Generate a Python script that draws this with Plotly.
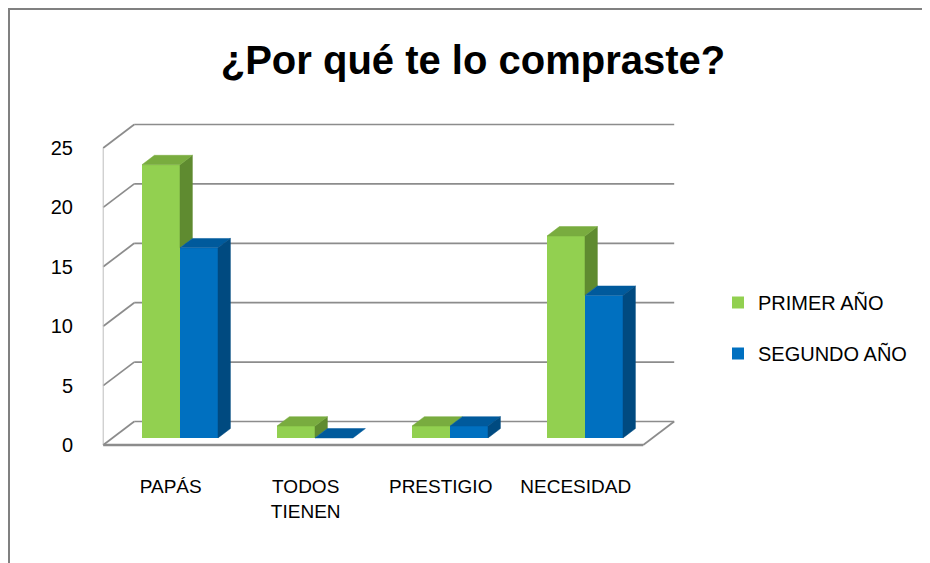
import plotly.graph_objects as go

# ---------------- data ----------------
categories = ["PAPÁS", "TODOS<br>TIENEN", "PRESTIGIO", "NECESIDAD"]
primer_anio = [23, 1, 1, 17]
segundo_anio = [16, 0, 1, 12]
series_names = ["PRIMER AÑO", "SEGUNDO AÑO"]
y_ticks = [0, 5, 10, 15, 20, 25]
title_text = "¿Por qué te lo compraste?"

# ---------------- styling / 3D projection params ----------------
FONT = "Liberation Sans, Arial, sans-serif"
GREEN = ["#92D050", "#79AC3F", "#5F8B30"]   # front, top, side
BLUE = ["#0070C0", "#005A9C", "#004A80"]
GRID = "#8C8C8C"
DX, DY = 0.2296, 1.978        # full depth offset in data units (oblique projection)
D0, D1 = 0.3, 0.7             # bar depth (front/back)
W = 0.2815                    # bar width in category units
pos = list(range(len(categories)))

PAGE = 8                      # page body margin offset
L, R, T, B = 95 - PAGE, 685 - PAGE, 110 - PAGE, 455 - PAGE


def px_x(p):  # page pixel -> paper x
    return (p - PAGE - L) / (R - L)


def px_y(p):  # page pixel -> paper y
    return (B - (p - PAGE)) / (B - T)


def proj(x, v, d):
    return x + d * DX, v + d * DY


fig = go.Figure()

# front faces (bars through library scales)
for vals, name, cols, off in [(primer_anio, series_names[0], GREEN, -W),
                              (segundo_anio, series_names[1], BLUE, 0.0)]:
    fig.add_trace(go.Bar(
        x=[proj(i, 0, D0)[0] for i in pos], y=vals, base=D0 * DY,
        offset=off, width=W, name=name, legendgroup=name,
        marker=dict(color=cols[0], line=dict(width=0)),
        hovertemplate="%{y}<extra>" + name + "</extra>",
    ))


def poly_trace(polys, color):
    xs, ys = [], []
    for p in polys:
        for (x, y) in p + [p[0]]:
            xs.append(x)
            ys.append(y)
        xs.append(None)
        ys.append(None)
    return go.Scatter(x=xs, y=ys, mode="lines", fill="toself", fillcolor=color,
                      line=dict(color=color, width=0.5), showlegend=False,
                      hoverinfo="skip")


def top_faces(vals, off):
    out = []
    for i, v in zip(pos, vals):
        x0, x1 = i + off, i + off + W
        out.append([proj(x0, v, D0), proj(x1, v, D0), proj(x1, v, D1), proj(x0, v, D1)])
    return out


def side_faces(vals, off, lows=None):
    out = []
    for k, (i, v) in enumerate(zip(pos, vals)):
        lo = 0 if lows is None else lows[k]
        if v <= lo:
            continue
        x1 = i + off + W
        out.append([proj(x1, lo, D0), proj(x1, v, D0), proj(x1, v, D1), proj(x1, lo, D1)])
    return out


fig.add_trace(poly_trace(side_faces(primer_anio, -W, segundo_anio), GREEN[2]))
fig.add_trace(poly_trace(top_faces(primer_anio, -W), GREEN[1]))
fig.add_trace(poly_trace(top_faces(segundo_anio, 0.0), BLUE[1]))
fig.add_trace(poly_trace(side_faces(segundo_anio, 0.0), BLUE[2]))

# walls / floor as shapes below the traces
shapes = []
xl, xr = pos[0] - 0.5, pos[-1] + 0.5


def seg(p, q, width=1.7, color=GRID):
    shapes.append(dict(type="line", xref="x", yref="y", x0=p[0], y0=p[1], x1=q[0], y1=q[1],
                       line=dict(color=color, width=width), layer="below"))


for v in y_ticks:
    seg(proj(xl, v, 1), proj(xr, v, 1))
    seg(proj(xl, v, 0), proj(xl, v, 1))
seg(proj(xl, 0, 0), proj(xl, y_ticks[-1], 0), width=1, color="#BDBDBD")
seg(proj(xl, 0, 0), proj(xr, 0, 0), width=2.5)
seg(proj(xr, 0, 0), proj(xr, 0, 1), width=1.7)

# outer frame (left and top border)
shapes.append(dict(type="line", xref="paper", yref="paper", x0=px_x(9), x1=px_x(9),
                   y0=px_y(8), y1=px_y(571), line=dict(color="#808080", width=2)))
shapes.append(dict(type="line", xref="paper", yref="paper", x0=px_x(8), x1=px_x(938),
                   y0=px_y(9), y1=px_y(9), line=dict(color="#808080", width=2)))

fig.update_layout(
    width=930, height=563,
    margin=dict(l=L, r=930 - R, t=T, b=563 - B, autoexpand=False),
    paper_bgcolor="white", plot_bgcolor="white",
    barmode="overlay", showlegend=True,
    shapes=shapes,
    title=dict(text="<b>" + title_text + "</b>", x=(473 - PAGE) / 930, xanchor="center",
               y=1 - (60 - PAGE) / 563, yanchor="middle", yref="container",
               font=dict(family=FONT, size=40, color="#000000")),
    xaxis=dict(range=[(95 - 170.7) / 135, (685 - 170.7) / 135], tickvals=pos, ticktext=categories,
               showgrid=False, zeroline=False, showline=False, ticks="",
               tickfont=dict(family=FONT, size=19, color="#000000"), ticklabelstandoff=18,
               fixedrange=True),
    yaxis=dict(range=[-10 / 11.88, -10 / 11.88 + 345 / 11.88], tickvals=y_ticks,
               showgrid=False, zeroline=False, showline=False, ticks="",
               tickfont=dict(family=FONT, size=20, color="#000000"), ticklabelstandoff=21,
               fixedrange=True),
    legend=dict(x=px_x(718), xanchor="left", y=px_y(328), yanchor="middle",
                traceorder="grouped", tracegroupgap=22,
                font=dict(family=FONT, size=20, color="#000000"), bgcolor="rgba(0,0,0,0)"),
)

fig.write_html("out.html")
